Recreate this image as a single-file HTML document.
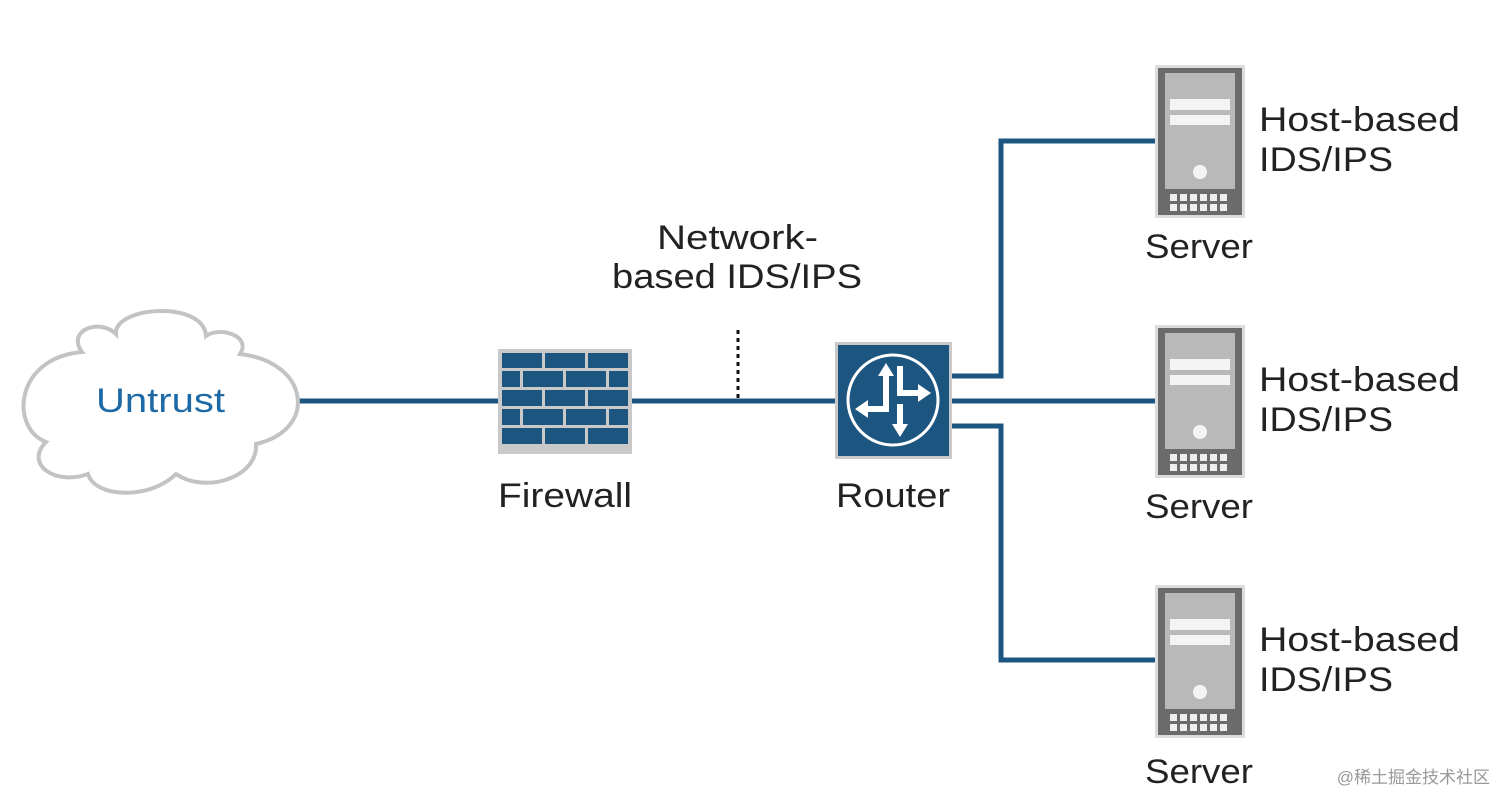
<!DOCTYPE html>
<html><head><meta charset="utf-8"><style>
html,body{margin:0;padding:0;background:#fff;}
svg{display:block;}
text{font-family:"Liberation Sans",sans-serif;}
</style></head><body>
<svg width="1512" height="811" viewBox="0 0 1512 811" xmlns="http://www.w3.org/2000/svg">
<defs>
<g id="srv">
  <rect x="0" y="0" width="90" height="153" fill="#dcdcdc"/>
  <rect x="3" y="3" width="84" height="147" fill="#6b6b6b"/>
  <rect x="10" y="8" width="70" height="116" fill="#b9b9b9"/>
  <rect x="15" y="34" width="60" height="11" fill="#f4f4f4"/>
  <rect x="15" y="50" width="60" height="10" fill="#f4f4f4"/>
  <circle cx="45" cy="107" r="7" fill="#f4f4f4"/>
  <g fill="#eeeeee">
    <rect x="15" y="129" width="7" height="7"/><rect x="25" y="129" width="7" height="7"/><rect x="35" y="129" width="7" height="7"/><rect x="45" y="129" width="7" height="7"/><rect x="55" y="129" width="7" height="7"/><rect x="65" y="129" width="7" height="7"/>
    <rect x="15" y="139" width="7" height="7"/><rect x="25" y="139" width="7" height="7"/><rect x="35" y="139" width="7" height="7"/><rect x="45" y="139" width="7" height="7"/><rect x="55" y="139" width="7" height="7"/><rect x="65" y="139" width="7" height="7"/>
  </g>
</g>
</defs>
<g stroke="#1c5680" stroke-width="5" fill="none">
  <line x1="296" y1="401" x2="836" y2="401"/>
  <polyline points="952,376 1001,376 1001,141 1156,141"/>
  <line x1="952" y1="401" x2="1156" y2="401"/>
  <polyline points="952,426 1001,426 1001,660 1156,660"/>
</g>
<line x1="738" y1="330" x2="738" y2="398" stroke="#111" stroke-width="3" stroke-dasharray="4,4"/>
<path d="M 82 352 C 66 330, 100 318, 116 334 C 114 306, 204 300, 206 336 C 220 326, 252 336, 240 354 C 310 362, 318 430, 256 444 C 258 478, 205 494, 176 474 C 150 500, 95 498, 88 474 C 55 486, 24 464, 46 442 C 10 428, 14 358, 82 352 Z" fill="#fff" stroke="#c3c3c3" stroke-width="4"/>
<g font-size="34" lengthAdjust="spacingAndGlyphs">
<text x="96" y="412" fill="#1d6aa6" textLength="129" lengthAdjust="spacingAndGlyphs">Untrust</text>
</g>
<rect x="498" y="349" width="134" height="105" fill="#c9c9c9"/>
<g fill="#1c5680">
  <rect x="502" y="353" width="40" height="15"/><rect x="545" y="353" width="40" height="15"/><rect x="588" y="353" width="40" height="15"/>
  <rect x="502" y="371" width="18" height="16"/><rect x="523" y="371" width="40" height="16"/><rect x="566" y="371" width="40" height="16"/><rect x="609" y="371" width="19" height="16"/>
  <rect x="502" y="390" width="40" height="16"/><rect x="545" y="390" width="40" height="16"/><rect x="588" y="390" width="40" height="16"/>
  <rect x="502" y="409" width="18" height="16"/><rect x="523" y="409" width="40" height="16"/><rect x="566" y="409" width="40" height="16"/><rect x="609" y="409" width="19" height="16"/>
  <rect x="502" y="428" width="40" height="16"/><rect x="545" y="428" width="40" height="16"/><rect x="588" y="428" width="40" height="16"/>
</g>
<rect x="835" y="342" width="117" height="117" fill="#c9c9c9"/>
<rect x="838" y="345" width="111" height="111" fill="#1c5680"/>
<circle cx="893" cy="400" r="45" fill="none" stroke="#fff" stroke-width="3"/>
<g fill="#fff">
  <rect x="883" y="374" width="6" height="38"/><polygon points="878,376 886,363 894,376"/>
  <rect x="897" y="366" width="6" height="30"/><rect x="897" y="390" width="23" height="6"/><polygon points="918,384 931,393 918,402"/>
  <rect x="865" y="406" width="24" height="6"/><polygon points="868,400 855,409 868,418"/>
  <rect x="897" y="404" width="6" height="22"/><polygon points="892,424 900,437 908,424"/>
</g>
<g font-size="34" fill="#222">
  <text x="498" y="507" textLength="134" lengthAdjust="spacingAndGlyphs">Firewall</text>
  <text x="836" y="507" textLength="114" lengthAdjust="spacingAndGlyphs">Router</text>
  <text x="657" y="249" textLength="161" lengthAdjust="spacingAndGlyphs">Network-</text>
  <text x="612" y="288" textLength="250" lengthAdjust="spacingAndGlyphs">based IDS/IPS</text>
</g>
<use href="#srv" x="1155" y="65"/>
<use href="#srv" x="1155" y="325"/>
<use href="#srv" x="1155" y="585"/>
<g font-size="34" fill="#222">
  <text x="1259" y="131" textLength="201" lengthAdjust="spacingAndGlyphs">Host-based</text><text x="1259" y="171" textLength="134" lengthAdjust="spacingAndGlyphs">IDS/IPS</text>
  <text x="1259" y="391" textLength="201" lengthAdjust="spacingAndGlyphs">Host-based</text><text x="1259" y="431" textLength="134" lengthAdjust="spacingAndGlyphs">IDS/IPS</text>
  <text x="1259" y="651" textLength="201" lengthAdjust="spacingAndGlyphs">Host-based</text><text x="1259" y="691" textLength="134" lengthAdjust="spacingAndGlyphs">IDS/IPS</text>
  <text x="1145" y="258" textLength="108" lengthAdjust="spacingAndGlyphs">Server</text>
  <text x="1145" y="518" textLength="108" lengthAdjust="spacingAndGlyphs">Server</text>
  <text x="1145" y="783" textLength="108" lengthAdjust="spacingAndGlyphs">Server</text>
</g>
<text x="1490" y="783" font-size="17" fill="#999" text-anchor="end" style="font-family:'Liberation Sans','Noto Sans CJK SC',sans-serif">@稀土掘金技术社区</text>
</svg>
</body></html>
